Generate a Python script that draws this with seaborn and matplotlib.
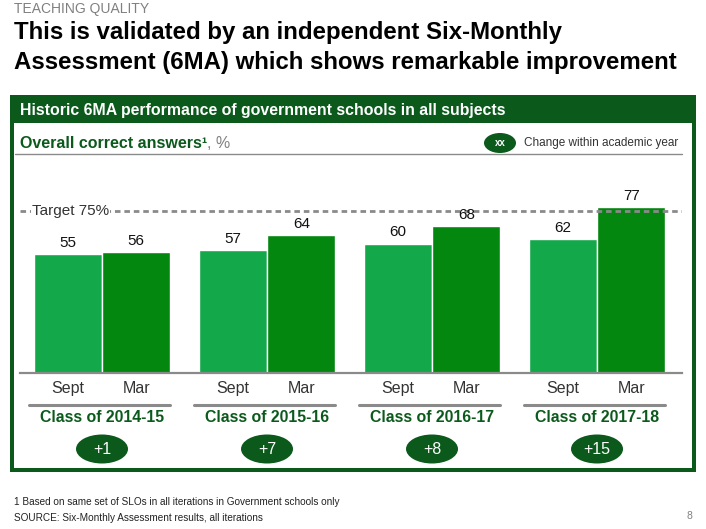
import matplotlib
matplotlib.use("Agg")
import matplotlib.pyplot as plt
import matplotlib.patches as mpatches
import matplotlib.lines as mlines
from matplotlib.transforms import blended_transform_factory
import pandas as pd
import seaborn as sns

# data
classes = ["Class of 2014-15", "Class of 2015-16", "Class of 2016-17", "Class of 2017-18"]
terms = ["Sept", "Mar"]
sept_scores = [55, 57, 60, 62]
mar_scores = [56, 64, 68, 77]
target = 75

df = pd.DataFrame({
    "cls": classes * 2,
    "term": ["Sept"] * 4 + ["Mar"] * 4,
    "value": sept_scores + mar_scores,
})

DARK = "#0B5A1C"
LIGHT_BAR = "#13A84A"
DARK_BAR = "#03870F"
GREY = "#8A8A8A"

sns.set_style("white")
plt.rcParams["font.family"] = ["Liberation Sans", "DejaVu Sans"]

W, H = 706, 529
fig = plt.figure(figsize=(W / 100, H / 100), dpi=100)


def fx(px):
    return px / W


def fy(py):
    return 1 - py / H


# green frame and header band
fig.add_artist(mpatches.Rectangle((fx(10), fy(472)), fx(686), 377 / H,
                                  transform=fig.transFigure, facecolor=DARK, edgecolor="none", zorder=0))
fig.add_artist(mpatches.Rectangle((fx(14), fy(468)), fx(678), 345 / H,
                                  transform=fig.transFigure, facecolor="white", edgecolor="none", zorder=0))

fig.text(fx(14), fy(8.5), "TEACHING QUALITY", fontsize=10, color="#808080", va="center")
fig.text(fx(14), fy(32), "This is validated by an independent Six-Monthly", fontsize=17.3,
         fontweight="bold", color="black", va="center")
fig.text(fx(14), fy(62), "Assessment (6MA) which shows remarkable improvement", fontsize=17.3,
         fontweight="bold", color="black", va="center")
fig.text(fx(20), fy(111), "Historic 6MA performance of government schools in all subjects",
         fontsize=11.4, fontweight="bold", color="white", va="center")

# chart axes
ax = fig.add_axes([fx(20), fy(373), 662 / W, (373 - 160) / H])
sns.barplot(data=df, x="cls", y="value", hue="term", hue_order=terms,
            palette=[LIGHT_BAR, DARK_BAR], width=0.83, saturation=1,
            legend=False, ax=ax, zorder=2)
ax.set_xlim(-0.497, 3.515)
ax.set_ylim(0, 98.8)
ax.set_xticks([])
ax.set_yticks([])
ax.set_xlabel("")
ax.set_ylabel("")
for s in ["top", "left", "right"]:
    ax.spines[s].set_visible(False)
ax.spines["bottom"].set_color(GREY)
ax.spines["bottom"].set_linewidth(1.6)
ax.patch.set_alpha(0)

for cont in ax.containers:
    ax.bar_label(cont, padding=3, fontsize=11, color="#111111", zorder=7)

ax.axhline(target, color=GREY, lw=2, ls=(0, (2, 1.4)), zorder=5)
ax.text(0.018, target, f"Target {target}%", transform=blended_transform_factory(ax.transAxes, ax.transData),
        fontsize=11, color="#333333", va="center", ha="left", zorder=6,
        bbox=dict(facecolor="white", edgecolor="none", pad=0.5))

# term labels under each bar
xt = blended_transform_factory(ax.transData, fig.transFigure)
for cont, term in zip(ax.containers, terms):
    for bar in cont:
        cx = bar.get_x() + bar.get_width() / 2
        fig.text(cx, fy(393), term, transform=xt, fontsize=11.5, color="#333333",
                 ha="center", va="baseline")

# class labels, separators and change bubbles
for i, cls in enumerate(classes):
    fig.add_artist(mlines.Line2D([i - 0.445, i + 0.415], [fy(405), fy(405)], transform=xt,
                                 color=GREY, lw=2.2))
    fig.text(i, fy(418), cls, transform=xt, fontsize=11.4, fontweight="bold", color=DARK,
             ha="center", va="center")
    fig.add_artist(mpatches.Ellipse((i, fy(449)), 52 / 165, 29 / H, transform=xt,
                                    facecolor=DARK, edgecolor="none"))
    fig.text(i, fy(449), f"+{mar_scores[i] - sept_scores[i]}", transform=xt, fontsize=11.5,
             color="white", ha="center", va="center")

# sub header
t1 = fig.text(fx(20), fy(143), "Overall correct answers\u00b9", fontsize=11.5, fontweight="bold",
              color=DARK, va="center")
ax.annotate(", %", xy=(1, 0), xycoords=t1, va="bottom", ha="left", fontsize=11.5,
            color="#808080", annotation_clip=False)
fig.add_artist(mlines.Line2D([fx(15), fx(682)], [fy(154), fy(154)], transform=fig.transFigure,
                             color=GREY, lw=1))
fig.add_artist(mpatches.Ellipse((fx(500), fy(143)), fx(32), 20 / H, transform=fig.transFigure,
                                facecolor=DARK, edgecolor="none"))
fig.text(fx(500), fy(143), "xx", fontsize=7, fontweight="bold", color="white", ha="center", va="center")
fig.text(fx(524), fy(143), "Change within academic year", fontsize=8.5, color="#333333", va="center")

# footnotes
fig.text(fx(14), fy(502), "1 Based on same set of SLOs in all iterations in Government schools only",
         fontsize=7.2, color="#222222", va="center")
fig.text(fx(14), fy(518), "SOURCE: Six-Monthly Assessment results, all iterations",
         fontsize=7.2, color="#222222", va="center")
fig.text(fx(692), fy(516), "8", fontsize=7.5, color="#808080", ha="right", va="center")

fig.savefig("out.png", dpi=100)
